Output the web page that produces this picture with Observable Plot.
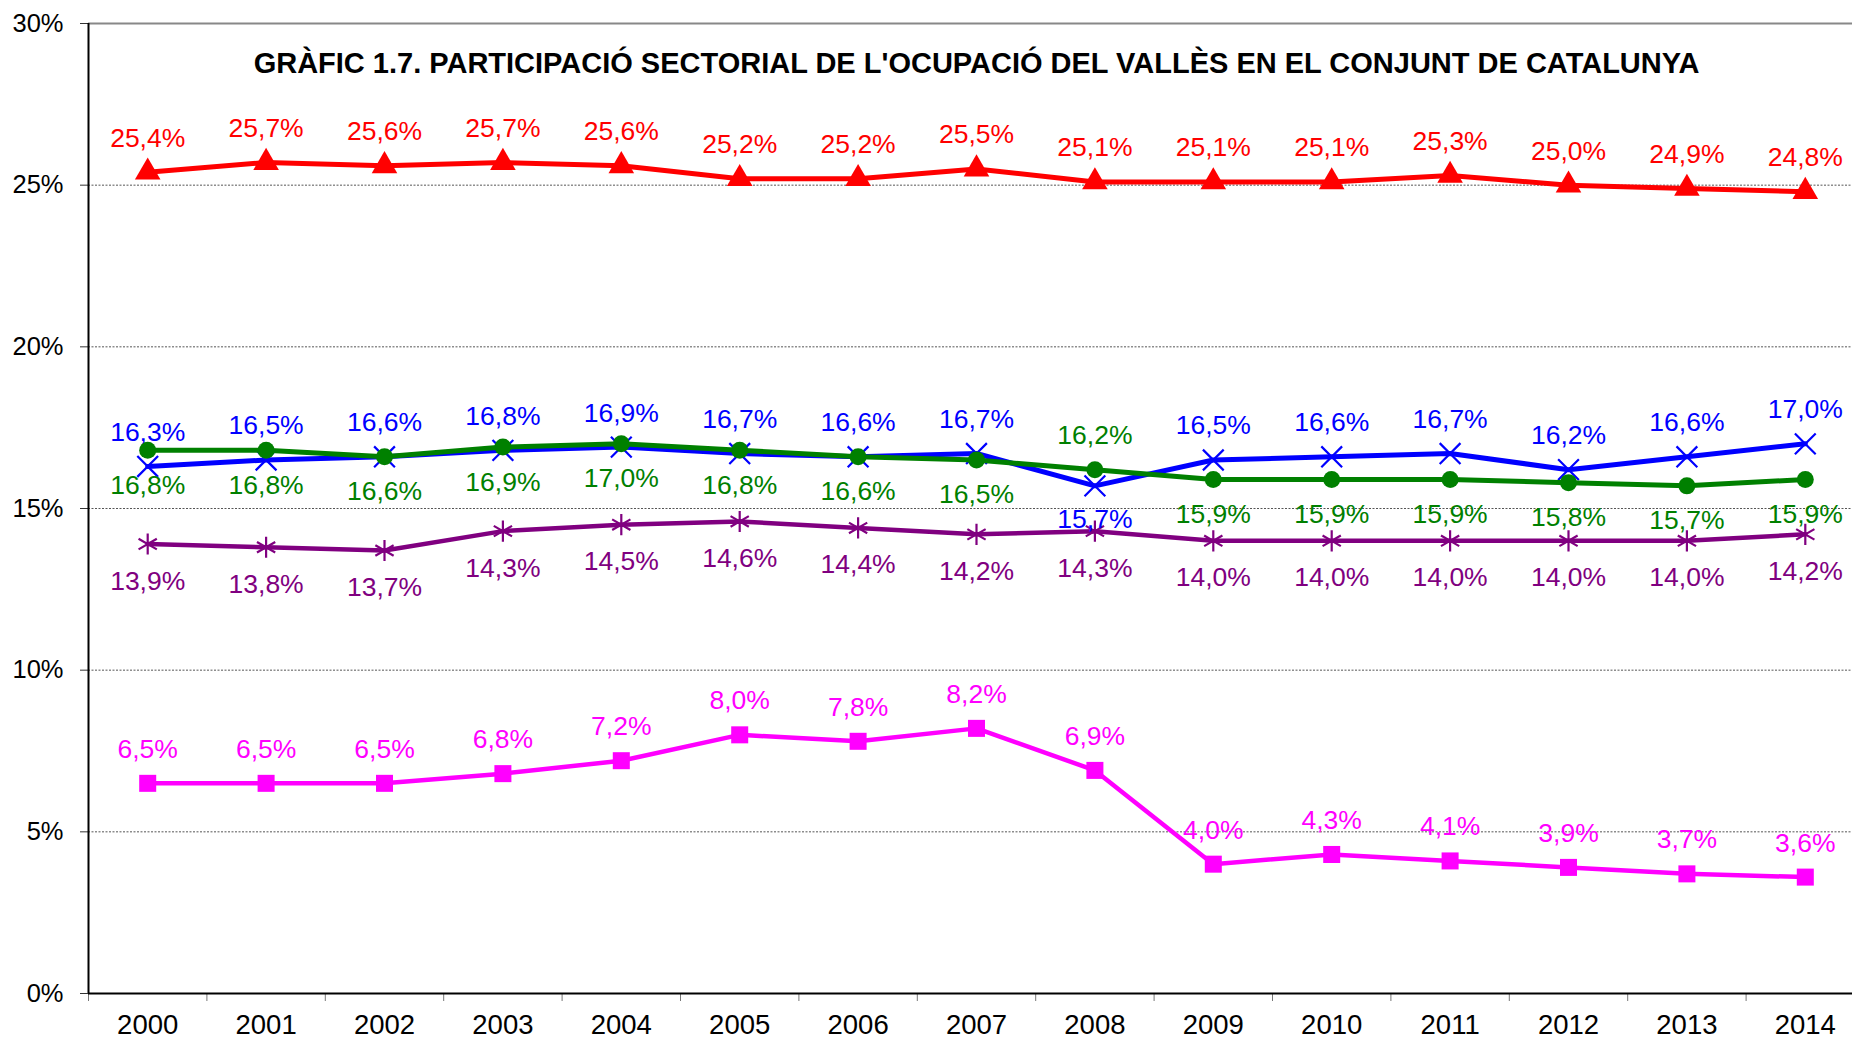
<!DOCTYPE html>
<html>
<head>
<meta charset="utf-8">
<script src="https://cdn.jsdelivr.net/npm/d3@7"></script>
<script src="https://cdn.jsdelivr.net/npm/@observablehq/plot@0.6"></script>
<style>
  html, body { margin: 0; padding: 0; background: #fff; overflow: hidden; }
  #chart svg { display: block; font-family: "Liberation Sans", Arial, sans-serif; }
</style>
</head>
<body>
<div id="chart"></div>
<script>
const title = "GRÀFIC 1.7. PARTICIPACIÓ SECTORIAL DE L'OCUPACIÓ DEL VALLÈS EN EL CONJUNT DE CATALUNYA";
const years = [2000, 2001, 2002, 2003, 2004, 2005, 2006, 2007, 2008, 2009, 2010, 2011, 2012, 2013, 2014];
const redValues     = [25.4, 25.7, 25.6, 25.7, 25.6, 25.2, 25.2, 25.5, 25.1, 25.1, 25.1, 25.3, 25.0, 24.9, 24.8];
const blueValues    = [16.3, 16.5, 16.6, 16.8, 16.9, 16.7, 16.6, 16.7, 15.7, 16.5, 16.6, 16.7, 16.2, 16.6, 17.0];
const greenValues   = [16.8, 16.8, 16.6, 16.9, 17.0, 16.8, 16.6, 16.5, 16.2, 15.9, 15.9, 15.9, 15.8, 15.7, 15.9];
const purpleValues  = [13.9, 13.8, 13.7, 14.3, 14.5, 14.6, 14.4, 14.2, 14.3, 14.0, 14.0, 14.0, 14.0, 14.0, 14.2];
const magentaValues = [6.5, 6.5, 6.5, 6.8, 7.2, 8.0, 7.8, 8.2, 6.9, 4.0, 4.3, 4.1, 3.9, 3.7, 3.6];
const yTicks = [0, 5, 10, 15, 20, 25, 30];
const gridTicks = [5, 10, 15, 20, 25];

const toRows = vals => years.map((y, i) => ({year: y, value: vals[i]}));
const red = toRows(redValues), blue = toRows(blueValues), green = toRows(greenValues),
      purple = toRows(purpleValues), magenta = toRows(magentaValues);
const fmt = d => d.value.toFixed(1).replace(".", ",") + "%";
const boundaries = years.map(y => y - 0.5).concat([years[years.length - 1] + 0.5]);
const font = {fontFamily: "Liberation Sans, Arial, sans-serif"};

function series(rows, color, symbol, r, sw, labelAbove, below) {
  const marks = [
    Plot.line(rows, {x: "year", y: "value", stroke: color, strokeWidth: sw, strokeLinejoin: "round"}),
    Plot.dot(rows, symbol === "times" || symbol === "asterisk"
      ? {x: "year", y: "value", symbol, r, stroke: color, strokeWidth: 2.2, fill: "none"}
      : {x: "year", y: "value", symbol, r, fill: color, stroke: "none"})
  ];
  const above = rows.filter(labelAbove);
  const under = rows.filter(d => !labelAbove(d));
  marks.push(Plot.text(above, {x: "year", y: "value", text: fmt, fill: color, fontSize: 26.5, dy: -34, ...font}));
  marks.push(Plot.text(under, {x: "year", y: "value", text: fmt, fill: color, fontSize: 26.5, dy: below, ...font}));
  return marks;
}

const chart = Plot.plot({
  width: 1852,
  height: 1040,
  marginLeft: 88,
  marginRight: 0,
  marginTop: 23,
  marginBottom: 47,
  style: {fontFamily: "Liberation Sans, Arial, sans-serif", background: "#fff"},
  x: {domain: [1999.5, 2014.5], range: [88, 1864]},
  y: {domain: [0, 30], range: [993, 23]},
  marks: [
    Plot.ruleY(gridTicks, {stroke: "#555", strokeWidth: 1, strokeDasharray: "2,1.5"}),
    Plot.ruleY([30], {stroke: "#888", strokeWidth: 2}),
    Plot.axisY({ticks: yTicks, tickFormat: d => d + "%", tickSize: 8, tickPadding: 17, fontSize: 25.5, fill: "#000", stroke: "#333", label: null}),
    Plot.axisX({ticks: boundaries, tickFormat: () => "", tickSize: 8, stroke: "#777", label: null}),
    Plot.axisX({ticks: years, tickFormat: d => String(d), tickSize: 0, tickPadding: 21, fontSize: 27.5, fill: "#000", label: null}),
    Plot.text([title], {frameAnchor: "top", dy: 40, dx: 6, text: d => d, fontSize: 29, fontWeight: "bold", fill: "#000", lineAnchor: "middle", ...font}),
    ...series(magenta, "#FF00FF", "square", 9.6, 4.5, () => true, 34),
    ...series(purple, "#800080", "asterisk", 10, 4.5, () => false, 37),
    ...series(blue, "#0000FF", "times", 9.5, 5, d => d.year !== 2008, 34),
    ...series(green, "#008000", "circle", 8.5, 5, d => d.year === 2008, 35),
    ...series(red, "#FF0000", "triangle", 9.5, 5, () => true, 34),
    Plot.ruleX([1999.5], {stroke: "#000", strokeWidth: 2}),
    Plot.ruleY([0], {stroke: "#000", strokeWidth: 2})
  ]
});
document.getElementById("chart").appendChild(chart);
</script>
</body>
</html>
